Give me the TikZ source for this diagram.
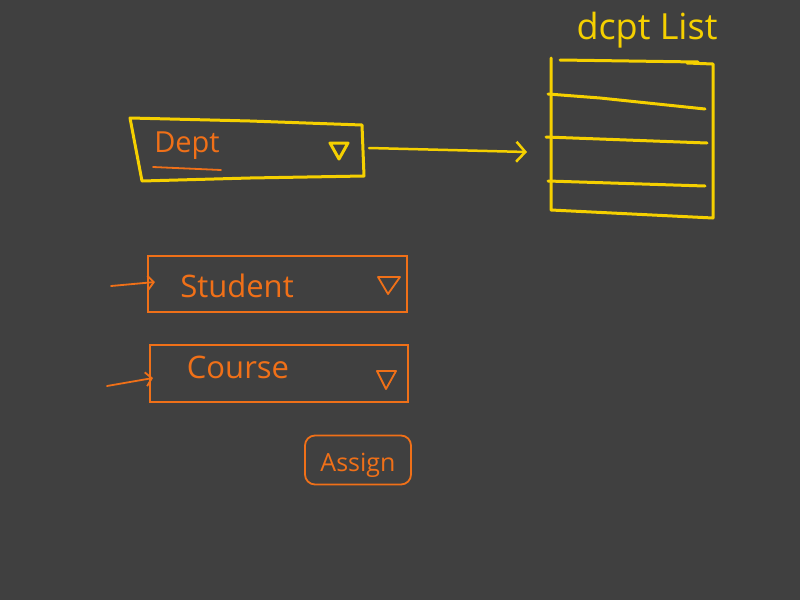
\documentclass[tikz,border=0pt]{standalone}
\usepackage{fontspec}
\setmainfont{Open Sans}
\usetikzlibrary{arrows.meta}
\definecolor{bg}{HTML}{404040}
\definecolor{yel}{HTML}{F5D000}
\definecolor{org}{HTML}{F07018}
\tikzset{
  ybox/.style={draw=yel, line width=3pt, line join=round, line cap=round},
  obox/.style={draw=org, line width=1.8pt},
  otext/.style={text=org, font=\fontsize{31}{34}\selectfont, inner sep=0pt},
  ytext/.style={text=yel, font=\fontsize{36}{40}\selectfont, inner sep=0pt},
  ytri/.style={draw=yel, line width=3pt, line join=round},
  otri/.style={draw=org, line width=1.8pt, line join=round},
  yarrow/.style={draw=yel, line width=2.5pt, line cap=round, -{Straight Barb[length=9pt,width=20pt,line width=2.5pt]}},
  oarrow/.style={draw=org, line width=1.8pt, line cap=round, -{Straight Barb[length=6pt,width=14pt,line width=1.8pt]}},
}
\begin{document}
\begin{tikzpicture}[x=1pt,y=-1pt]
\fill[bg] (0,0) rectangle (800,600);
\useasboundingbox (0,0) rectangle (800,600);
% Dept box
\draw[ybox] (130,118) -- (250,121) -- (362,125) -- (364,176) -- (250,178) -- (142,181) -- cycle;
\coordinate (deptE) at (369,148);
\node[otext, font=\fontsize{29}{32}\selectfont] (dept) at (187,146) {Dept};
\draw[draw=org, line width=1.8pt, line cap=round] (153,167) -- (221,170);
\draw[ytri] (330,143) -- (348,143) -- (339,159) -- cycle;
% list
\coordinate (listW) at (527,152);
\draw[yarrow] (deptE) -- (listW);
\node[ytext] (title) at (647,30) {dcpt List};
\draw[ybox] (560,60) -- (698,62);
\draw[ybox] (551,58) -- (551,210) -- (713,218) -- (713,64) -- (687,63);
\draw[ybox] (548,94) -- (600,98) -- (705,109);
\draw[ybox] (546,137) -- (707,143);
\draw[ybox] (548,181) -- (705,186);
% Student
\draw[obox] (148,256) rectangle (407,312);
\node[otext] (student) at (237,286) {Student};
\draw[otri] (378,277) -- (400,277) -- (388,294) -- cycle;
\coordinate (sa) at (111,286);
\coordinate (sb) at (155,282);
\draw[oarrow] (sa) -- (sb);
% Course
\draw[obox] (150,345) rectangle (408,402);
\node[otext] (course) at (238,367) {Course};
\draw[otri] (377,371) -- (396,371) -- (386,389) -- cycle;
\coordinate (ca) at (107,386);
\coordinate (cb) at (153,378);
\draw[oarrow] (ca) -- (cb);
% Assign
\node[draw=org, line width=1.8pt, rounded corners=10pt, minimum width=106pt, minimum height=49pt, text=org, text height=22pt, text depth=0pt, font=\fontsize{25}{28}\selectfont] (assign) at (358,460) {Assign};
\end{tikzpicture}
\end{document}
